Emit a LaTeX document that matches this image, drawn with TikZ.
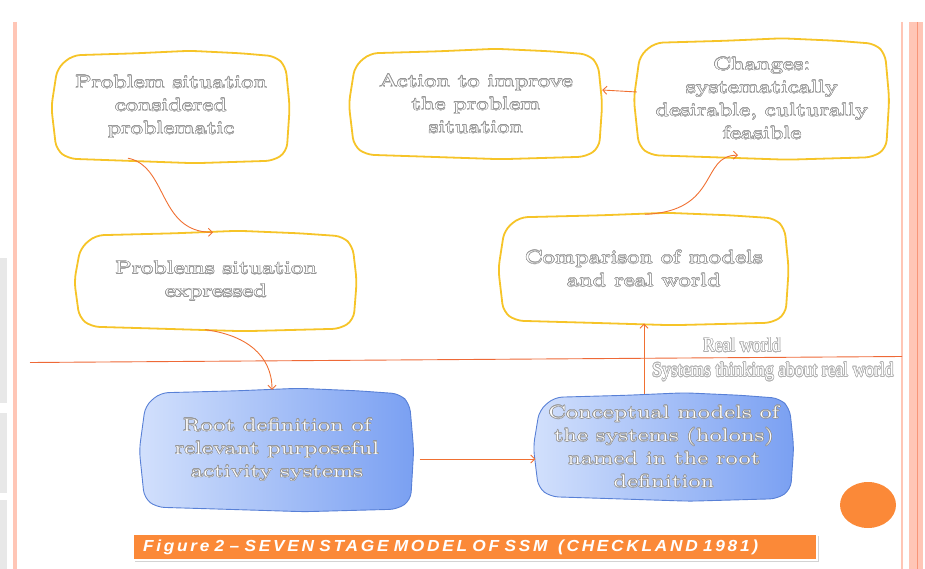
\documentclass[tikz,border=0pt]{standalone}
\usepackage{fontspec}
\usepackage[copies]{contour}
\usetikzlibrary{arrows.meta,calc,shadows}

\newfontfamily\boxfont{Latin Modern Roman}[FakeStretch=1.42,LetterSpace=3]
\newfontfamily\zonefont{Liberation Serif}[FakeStretch=0.88]
\newfontfamily\capfont{Liberation Sans}[FakeStretch=1.08,LetterSpace=17]

\definecolor{ybord}{RGB}{246,196,40}
\definecolor{arrowc}{RGB}{240,112,50}
\definecolor{linec}{RGB}{238,105,55}
\definecolor{pinkl}{RGB}{255,198,182}
\definecolor{pinkd}{RGB}{248,150,120}
\definecolor{bluel}{RGB}{210,224,252}
\definecolor{blued}{RGB}{122,160,242}
\definecolor{blueb}{RGB}{88,128,214}
\definecolor{orng}{RGB}{251,137,56}
\definecolor{txtgray}{RGB}{150,150,150}
\definecolor{zonegray}{RGB}{175,175,175}

\pgfdeclarelayer{background}
\pgfsetlayers{background,main}

\contourlength{0.55pt}
\contournumber{20}
\newcommand\outl[1]{\contour{txtgray}{#1}}
\newcommand\zoutl[1]{\contour{zonegray}{#1}}

% hand-drawn looking outline around a named node
\newcommand\handoutline[2]{%
  \begin{pgfonlayer}{background}
  \draw[#2, rounded corners=8pt]
    ($(#1.north west)+(3,16)$) -- ($(#1.north west)+(18,3)$)
    -- ($(#1.north west)!0.35!(#1.north east)+(0,1)$)
    -- ($(#1.north west)!0.58!(#1.north east)+(0,-1.5)$)
    -- ($(#1.north west)!0.8!(#1.north east)+(0,1)$)
    -- ($(#1.north east)+(-12,4)$) -- ($(#1.north east)+(-2,14)$)
    -- ($(#1.north east)!0.5!(#1.south east)+(2,0)$)
    -- ($(#1.south east)+(-1,-10)$) -- ($(#1.south east)+(-14,-1)$)
    -- ($(#1.south west)!0.6!(#1.south east)+(0,1.5)$)
    -- ($(#1.south west)!0.3!(#1.south east)+(0,-1)$)
    -- ($(#1.south west)+(14,-3)$) -- ($(#1.south west)+(2,-12)$)
    -- ($(#1.north west)!0.5!(#1.south west)+(-3,0)$)
    -- cycle;
  \end{pgfonlayer}}

\tikzset{
  stagebox/.style={text=white, align=center, inner sep=0pt,
    font=\boxfont\fontsize{18}{23}\selectfont},
  stageline/.style={draw=ybord, line width=1.8pt, fill=white},
  modelline/.style={draw=blueb, line width=0.9pt,
    left color=bluel, right color=blued},
  flow/.style={draw=arrowc, line width=0.9pt,
    -{Straight Barb[length=4pt,width=8pt]}},
  zone/.style={text=white, inner sep=0pt,
    font=\zonefont\fontsize{20}{22}\selectfont},
}

\begin{document}
\begin{tikzpicture}[x=1pt,y=-1pt]
\useasboundingbox (0,0) rectangle (925,569);

% page frame
\fill[gray!18] (0,258) rectangle (7,403);
\fill[gray!18] (0,413) rectangle (7,493);
\fill[gray!18] (0,500) rectangle (7,569);
\draw[pinkl, line width=4pt] (14.5,22) -- (14.5,569);
\draw[pinkl, line width=2pt] (902,22) -- (902,569);
\fill[pinkl] (909,22) rectangle (923,569);
\draw[pinkd, line width=1.2pt] (917.5,22) -- (917.5,569);

% boundary between the real world and systems thinking
\coordinate (wl) at (30,362.5);
\coordinate (wr) at (902,356.5);
\draw[linec, line width=0.9pt] (wl) -- (wr);
\node[zone] (rw) at (742,345) {\zoutl{Real world}};
\node[zone] (st) at (773,372) {\zoutl{Systems thinking about real world}};

% real-world stages
\node[stagebox, minimum width=233pt, minimum height=109pt] (P1) at (171,107)
  {\outl{Problem situation}\\\outl{considered}\\\outl{problematic}};
\node[stagebox, minimum width=248pt, minimum height=107pt] (A) at (476,104)
  {\outl{Action to improve}\\\outl{the problem}\\\outl{situation}};
\node[stagebox, minimum width=250pt, minimum height=118pt] (C) at (762,99)
  {\outl{Changes:}\\\outl{systematically}\\\outl{desirable, culturally}\\\outl{feasible}};
\node[stagebox, minimum width=277pt, minimum height=97pt] (E) at (216,281)
  {\outl{Problems situation}\\\outl{expressed}};
\node[stagebox, minimum width=285pt, minimum height=109pt] (Cmp) at (644,269)
  {\outl{Comparison of models}\\\outl{and real world}};
\handoutline{P1}{stageline}
\handoutline{A}{stageline}
\handoutline{C}{stageline}
\handoutline{E}{stageline}
\handoutline{Cmp}{stageline}

% systems-thinking stages
\node[stagebox, minimum width=269pt, minimum height=120pt] (R) at (277,450)
  {\outl{Root definition of}\\\outl{relevant purposeful}\\\outl{activity systems}};
\node[stagebox, minimum width=255pt, minimum height=105pt] (M) at (664,447)
  {\outl{Conceptual models of}\\\outl{the systems (holons)}\\\outl{named in the root}\\\outl{definition}};
\handoutline{R}{modelline}
\handoutline{M}{modelline}

% flow between stages
\draw[flow] ($(P1.south)+(-43,-3.5)$) .. controls +(40,8) and +(-55,0) .. ($(E.north)+(-3,0)$);
\draw[flow] ($(E.south)+(-11,0)$) .. controls +(40,5) and +(0,-35) .. ($(R.north)+(-5,0)$);
\draw[flow] ($(R.east)+(8,9)$) -- ($(M.west)+(-1,12)$);
\draw[flow] (Cmp.south |- M.north) -- (Cmp.south);
\draw[flow] ($(Cmp.north)+(1,0)$) .. controls +(75,-3) and +(-38,0) .. ($(C.south)+(-24,-3)$);
\draw[flow] ($(C.west)+(0,-7)$) -- ($(A.east)+(2,-14)$);

% caption bar and marker
\node[fill=orng, draw=white, line width=1.5pt,
  drop shadow={shadow xshift=2pt, shadow yshift=-2pt, opacity=0.35},
  minimum width=684pt, minimum height=26pt, text width=664pt,
  align=left, inner sep=0pt, text=white,
  font=\capfont\bfseries\itshape\fontsize{16}{18}\selectfont] (cap) at (475,547)
  {Figure 2 – SEVEN STAGE MODEL OF SSM\ \ (CHECKLAND 1981)};
\fill[orng] (868,505) ellipse [x radius=28, y radius=23];
\end{tikzpicture}
\end{document}
